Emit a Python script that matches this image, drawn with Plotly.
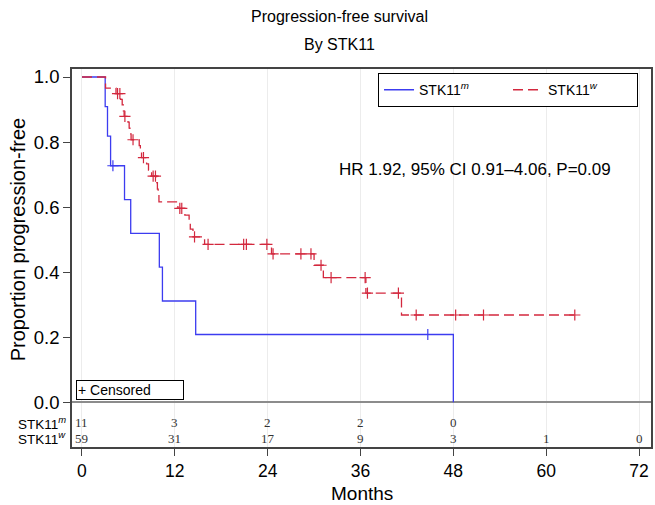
"""Progression-free survival by STK11 status (Kaplan-Meier)."""
import plotly.graph_objects as go

# STK11 mutant: step times (months) and survival after each step
mut_time = [0, 3.0, 3.3, 3.7, 5.5, 6.3, 10.0, 10.4, 14.7, 48.0]
mut_surv = [1.0, 0.909, 0.818, 0.727, 0.623, 0.519, 0.415, 0.311, 0.208, 0.0]
mut_cens_time = [4.0, 44.7]
mut_cens_surv = [0.727, 0.208]

# STK11 wild type
wt_time = [0, 3.05, 4.4, 5.0, 5.2, 5.35, 5.45, 5.95, 6.1, 6.2, 6.35, 7.4, 7.55, 7.7,
           8.35, 8.6, 9.0, 9.65, 9.75, 9.85, 9.95, 12.4, 13.3, 13.85, 14.0, 14.35,
           15.85, 24.5, 30.0, 31.2, 36.7, 41.3, 63.7]
wt_surv = [1.0, 0.966, 0.949, 0.931, 0.914, 0.896, 0.879, 0.861, 0.843, 0.825, 0.807,
           0.789, 0.770, 0.752, 0.733, 0.714, 0.695, 0.675, 0.655, 0.635, 0.616,
           0.596, 0.575, 0.553, 0.532, 0.508, 0.485, 0.456, 0.421, 0.383, 0.335,
           0.268, 0.268]
wt_cens_time = [4.6, 4.9, 5.55, 6.6, 7.95, 9.2, 9.5, 12.65, 12.9, 14.55, 16.3, 20.9,
                21.25, 23.9, 24.7, 28.3, 29.6, 30.9, 32.2, 36.6, 36.9, 40.9, 43.2,
                48.3, 51.9, 63.7]
wt_cens_surv = [0.949, 0.949, 0.879, 0.807, 0.752, 0.695, 0.695, 0.596, 0.596, 0.508,
                0.485, 0.485, 0.485, 0.485, 0.456, 0.456, 0.456, 0.421, 0.383, 0.383,
                0.335, 0.335, 0.268, 0.268, 0.268, 0.268]

# numbers at risk
risk_months = [0, 12, 24, 36, 48, 60, 72]
risk_mut = [11, 3, 2, 2, 0]
risk_wt = [59, 31, 17, 9, 3, 1, 0]

BLUE = "#3c3cf0"
RED = "#d3283e"
FONT = "Liberation Sans, Arial, sans-serif"

fig = go.Figure()
fig.add_trace(go.Scatter(x=mut_time, y=mut_surv, mode="lines", line_shape="hv",
                         line=dict(color=BLUE, width=1.3),
                         name="STK11<sup><i>m</i></sup>"))
fig.add_trace(go.Scatter(x=wt_time, y=wt_surv, mode="lines", line_shape="hv",
                         line=dict(color=RED, width=1.3, dash="10px,5px"),
                         name="STK11<sup><i>w</i></sup>"))
fig.add_trace(go.Scatter(x=mut_cens_time, y=mut_cens_surv, mode="markers", showlegend=False,
                         marker=dict(symbol="cross-thin", size=8, line=dict(color=BLUE, width=1.2))))
fig.add_trace(go.Scatter(x=wt_cens_time, y=wt_cens_surv, mode="markers", showlegend=False,
                         marker=dict(symbol="cross-thin", size=8, line=dict(color=RED, width=1.2))))

# risk table
ROW_M, ROW_W = -0.064, -0.111
for m, n in zip(risk_months, risk_mut):
    fig.add_annotation(x=m, y=ROW_M, text=str(n), showarrow=False,
                       font=dict(family="Liberation Serif", size=13, color="#333"))
for m, n in zip(risk_months, risk_wt):
    fig.add_annotation(x=m, y=ROW_W, text=str(n), showarrow=False,
                       font=dict(family="Liberation Serif", size=13, color="#333"))
for y, lab in [(ROW_M, "STK11<sup><i>m</i></sup>"), (ROW_W, "STK11<sup><i>w</i></sup>")]:
    fig.add_annotation(xref="paper", x=-0.007, y=y, xanchor="right", yanchor="middle",
                       text=lab, showarrow=False, font=dict(size=13.5))

fig.add_annotation(x=50.75, y=0.714, text="HR 1.92, 95% CI 0.91–4.06, P=0.09",
                   showarrow=False, font=dict(size=17))
fig.add_annotation(xref="paper", x=0.007, y=0.006, xanchor="left", yanchor="bottom",
                   text="+ Censored", showarrow=False, font=dict(size=14), width=104,
                   align="left", bordercolor="black", borderwidth=1, borderpad=1,
                   bgcolor="white")

# titles
fig.add_annotation(xref="paper", yref="paper", x=0.4613, y=1.1376, xanchor="center",
                   yanchor="middle", text="Progression-free survival", showarrow=False,
                   font=dict(size=16))
fig.add_annotation(xref="paper", yref="paper", x=0.4613, y=1.0635, xanchor="center",
                   yanchor="middle", text="By STK11", showarrow=False, font=dict(size=16))
fig.add_annotation(xref="paper", yref="paper", x=0.5, y=-0.1243, xanchor="center",
                   yanchor="middle", text="Months", showarrow=False, font=dict(size=19))
fig.add_annotation(xref="paper", x=-0.0938, y=0.5, xanchor="center", yanchor="middle",
                   text="Proportion progression-free", textangle=-90, showarrow=False,
                   font=dict(size=20))

fig.update_xaxes(range=[-1.288, 73.55], tickvals=risk_months, ticks="outside", ticklen=7,
                 tickcolor="#444", showgrid=True, gridcolor="#ececec", zeroline=False,
                 showline=True, mirror=True, linecolor="#444", linewidth=1.5,
                 tickfont=dict(size=17.5))
fig.update_yaxes(range=[-0.138, 1.0246], tickvals=[0, 0.2, 0.4, 0.6, 0.8, 1.0],
                 ticktext=["0.0", "0.2", "0.4", "0.6", "0.8", "1.0"], ticks="outside",
                 ticklen=7, tickcolor="#444", showgrid=False, zeroline=True,
                 zerolinecolor="#8c8c8c", zerolinewidth=1.5, showline=True, mirror=True,
                 linecolor="#444", linewidth=1.5, tickfont=dict(size=18.5))
fig.update_layout(
    width=655, height=505,
    margin=dict(l=72, r=2, t=69, b=58),
    plot_bgcolor="white", paper_bgcolor="white",
    font=dict(family=FONT, color="black"),
    legend=dict(orientation="h", x=0.9776, xanchor="right", y=0.989, yanchor="top",
                bordercolor="black", borderwidth=1, bgcolor="white", font=dict(size=14),
                entrywidth=84, entrywidthmode="pixels"),
)

fig.write_html("out.html", config={"displayModeBar": False},
               post_script="document.body.style.margin='0px';")
